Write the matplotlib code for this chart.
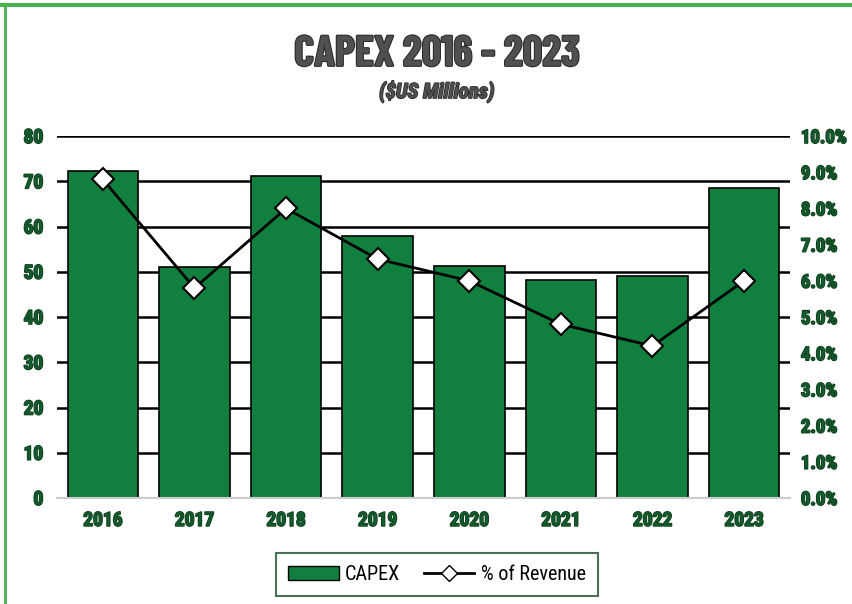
import numpy as np
import matplotlib
matplotlib.use("Agg")
from matplotlib import pyplot as plt
from matplotlib import patheffects as pe
from matplotlib.lines import Line2D
from matplotlib.patches import Patch

years = ["2016", "2017", "2018", "2019", "2020", "2021", "2022", "2023"]
capex = [72.2, 51.0, 71.2, 57.9, 51.2, 48.2, 49.0, 68.6]
pct_revenue = [8.8, 5.8, 8.0, 6.6, 6.0, 4.8, 4.2, 6.0]
left_ticks = [0, 10, 20, 30, 40, 50, 60, 70, 80]
right_ticks = [0, 1, 2, 3, 4, 5, 6, 7, 8, 9, 10]

plt.rcParams['font.family'] = ['Roboto Condensed', 'Barlow Semi Condensed', 'Liberation Sans', 'DejaVu Sans']
title_font = ['Barlow Condensed', 'Roboto Condensed', 'Liberation Sans', 'DejaVu Sans']

bar_green = "#11803f"
tick_green = "#155a2c"

fig = plt.figure(figsize=(8.52, 6.04), dpi=100)
ax = fig.add_axes([0.067, 0.1755, 0.86, 0.5993])
x = np.arange(len(years))

# gridlines behind bars
for t in left_ticks[1:]:
    ax.axhline(t, color="black", lw=1.8, zorder=1)
ax.bar(x, capex, width=0.77, color=bar_green, edgecolor="black", lw=1.2, zorder=2)
ax.set_xlim(-0.5, len(years) - 0.5)
ax.set_ylim(0, 80)
ax.set_yticks(left_ticks)
ax.set_xticks(x)
ax.set_xticklabels(years)
for s in ["top", "right", "left"]:
    ax.spines[s].set_visible(False)
ax.spines["bottom"].set_color("#cccccc")
ax.spines["bottom"].set_linewidth(1.5)
ax.tick_params(length=0, colors=tick_green, labelsize=14, pad=10)
for lab in ax.get_xticklabels() + ax.get_yticklabels():
    lab.set_fontweight("bold")
    lab.set_path_effects([pe.withStroke(linewidth=1.2, foreground="#0b3d1b")])

ax2 = ax.twinx()
ax2.plot(x, pct_revenue, color="black", lw=2, marker="D", markersize=11,
         markerfacecolor="white", markeredgecolor="black", markeredgewidth=1.5, zorder=3)
ax2.set_ylim(0, 10)
ax2.set_yticks(right_ticks)
ax2.set_yticklabels(["{:.1f}%".format(v) for v in right_ticks])
for s in ["top", "right", "left", "bottom"]:
    ax2.spines[s].set_visible(False)
ax2.tick_params(length=0, colors=tick_green, labelsize=13.5, pad=8)
for lab in ax2.get_yticklabels():
    lab.set_fontweight("bold")
    lab.set_path_effects([pe.withStroke(linewidth=1.2, foreground="#0b3d1b")])

fig.text(0.513, 0.91, "CAPEX 2016 - 2023", ha="center", va="center", fontsize=31,
         fontweight="bold", color="#505050", family=title_font,
         path_effects=[pe.withStroke(linewidth=1.5, foreground="#2a2a2a")])
fig.text(0.513, 0.848, "($US Millions)", ha="center", va="center", fontsize=15,
         fontweight="bold", style="italic", color="#505050",
         path_effects=[pe.withStroke(linewidth=1.2, foreground="#2a2a2a")])

handles = [Patch(facecolor=bar_green, edgecolor="black", label="CAPEX"),
           Line2D([0], [0], color="black", lw=2, marker="D", markersize=8,
                  markerfacecolor="white", markeredgecolor="black", label="% of Revenue")]
leg = fig.legend(handles=handles, loc="center", bbox_to_anchor=(0.5128, 0.0493), ncol=2,
                 frameon=True, fancybox=False, fontsize=14.5, handlelength=2.5,
                 handletextpad=0.3, columnspacing=1.2, borderpad=0.6, borderaxespad=0)
leg.get_frame().set_edgecolor("#1d4d2a")
leg.get_frame().set_linewidth(1.5)

# green frame at top and left
fig.add_artist(Line2D([0, 1], [0.992, 0.992], transform=fig.transFigure, color="#4caf50", lw=3))
fig.add_artist(Line2D([0.006, 0.006], [0, 0.992], transform=fig.transFigure, color="#4caf50", lw=2))

fig.savefig("out.png", dpi=100)
